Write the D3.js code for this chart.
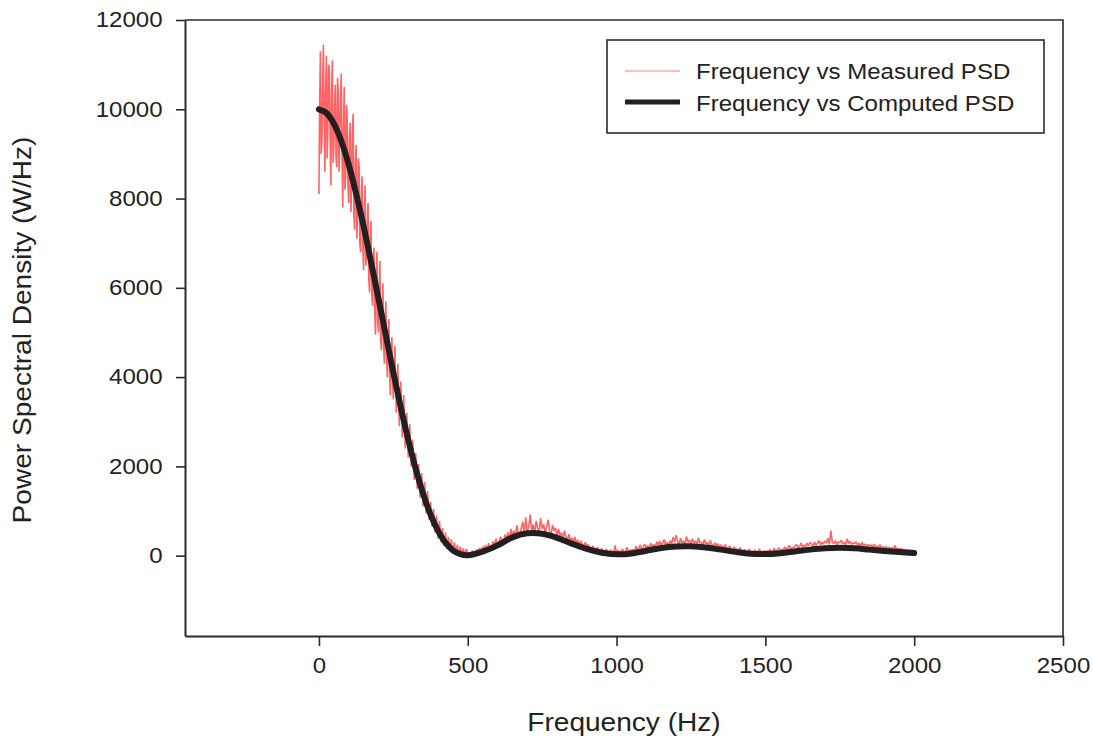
<!DOCTYPE html>
<html>
<head>
<meta charset="utf-8">
<script src="https://cdn.jsdelivr.net/npm/d3@7"></script>
<style>
  html, body { margin: 0; padding: 0; background: #fff; }
  svg { display: block; }
  text { font-family: "Liberation Sans", Arial, Helvetica, sans-serif; fill: #222; }
</style>
</head>
<body>
<svg id="chart" width="1093" height="738"></svg>
<script>
// ---- data ----
const xTicks = [0, 500, 1000, 1500, 2000, 2500];
const yTicks = [0, 2000, 4000, 6000, 8000, 10000, 12000];

// Computed PSD (smooth black curve)
const computedFreq = [0, 25, 50, 75, 100, 125, 150, 175, 200, 225, 250, 275, 300, 325, 350, 375, 400, 425, 450, 475, 500,
  550, 600, 650, 700, 750, 800, 850, 900, 950, 1000, 1050, 1100, 1150, 1200, 1250, 1300, 1350, 1400, 1450, 1500,
  1550, 1600, 1650, 1700, 1750, 1800, 1850, 1900, 1950, 2000];
const computedPSD = [10000, 9920, 9680, 9290, 8760, 8110, 7380, 6580, 5760, 4930, 4100, 3320, 2600, 1950, 1390, 920, 560, 290, 120, 35, 10,
  90, 230, 410, 500, 490, 400, 270, 150, 65, 30, 50, 110, 170, 205, 210, 185, 135, 85, 45, 35,
  55, 95, 135, 165, 175, 165, 135, 105, 80, 60];

// Measured PSD (noisy red trace)
// 0..250 Hz every 2.5 Hz
const measuredLowFreq = d3.range(0, 250.1, 2.5);
const measuredLowPSD = [
  8100, 10200, 11300, 9000, 9300, 10600, 11450, 9800, 8600, 10400,
  11200, 8900, 9600, 11000, 10900, 9400, 8300, 10300, 11100, 8800,
  9100, 10100, 10550, 8900, 8700, 10700, 10400, 8600, 9400, 10200,
  10800, 9000, 7800, 9600, 10500, 8200, 8500, 10100, 9800, 8300,
  7900, 9300, 9700, 7700, 8300, 9500, 9900, 7600, 7300, 8800,
  9200, 7100, 7700, 8900, 8700, 7000, 6800, 8100, 8500, 6900,
  6400, 7800, 8300, 6500, 6700, 7500, 7900, 6200, 5900, 7200,
  7500, 5900, 5600, 6600, 6900, 5500, 4950, 6300, 6800, 5200,
  5000, 6000, 6600, 4800, 4600, 5500, 6100, 4700, 4300, 5300,
  5700, 4400, 4000, 4900, 5300, 4100, 3600, 4500, 4900, 3900,
  3500];
// 255..500 Hz every 5 Hz
const measuredMidFreq = d3.range(255, 501, 5);
const measuredMidPSD = [
  4700, 3200, 4300, 2900, 3900, 2650, 3600, 2400, 3200, 2200,
  2950, 2000, 2600, 1700, 2300, 1500, 2050, 1300, 1850, 1100,
  1650, 950, 1450, 800, 1200, 650, 1050, 520, 900, 380,
  780, 300, 620, 220, 520, 150, 420, 100, 360, 40,
  300, 20, 240, 0, 200, 10, 160, 5, 150, 60];
// 505..2000 Hz every 5 Hz
const measuredTailFreq = d3.range(505, 2001, 5);
const measuredTailPSD = [
  60, 30, 110, 70, 40, 140, 90, 170, 60, 200,
  150, 240, 110, 280, 190, 130, 320, 220, 380, 260,
  300, 420, 350, 260, 470, 380, 520, 330, 600, 450,
  560, 420, 680, 500, 450, 620, 760, 480, 860, 540,
  650, 920, 560, 700, 480, 780, 620, 540, 840, 600,
  700, 520, 650, 800, 560, 470, 690, 560, 620, 450,
  600, 440, 520, 380, 560, 420, 350, 480, 330, 400,
  300, 420, 280, 350, 230, 330, 260, 200, 300, 190,
  250, 170, 120, 220, 150, 100, 190, 130, 90, 160,
  110, 60, 150, 80, 50, 130, 70, 45, 230, 60,
  120, 60, 90, 150, 70, 100, 190, 80, 130, 110,
  140, 90, 210, 120, 170, 240, 110, 200, 260, 150,
  230, 170, 280, 200, 250, 190, 310, 240, 330, 220,
  290, 360, 240, 300, 220, 340, 260, 420, 300, 460,
  320, 260, 390, 280, 330, 250, 430, 300, 350, 270,
  380, 290, 330, 250, 400, 280, 310, 240, 360, 260,
  300, 230, 340, 250, 210, 290, 220, 270, 190, 240,
  210, 160, 250, 170, 140, 220, 150, 120, 200, 130,
  150, 110, 180, 100, 80, 140, 90, 70, 150, 80,
  100, 70, 130, 60, 90, 150, 70, 60, 110, 70,
  110, 80, 140, 70, 100, 160, 90, 120, 180, 110,
  150, 110, 200, 130, 170, 230, 140, 190, 160, 220,
  250, 170, 210, 290, 180, 240, 200, 280, 220, 300,
  260, 200, 310, 230, 280, 340, 240, 300, 260, 330,
  280, 390, 250, 560, 300, 270, 340, 250, 310, 290,
  350, 260, 300, 240, 380, 270, 320, 250, 290, 270,
  310, 230, 280, 210, 300, 220, 260, 200, 250, 210,
  240, 190, 260, 180, 220, 170, 250, 160, 200, 170,
  210, 150, 190, 140, 180, 130, 230, 140, 170, 120,
  160, 110, 150, 100, 140, 100, 130, 90, 120, 80];

const legendLabels = ["Frequency vs Measured PSD", "Frequency vs Computed PSD"];

// ---- layout ----
const svg = d3.select("#chart");
const plotLeft = 185, plotRight = 1063, plotTop = 20, plotBottom = 636;
const x = d3.scaleLinear().domain([-450, 2500]).range([plotLeft, plotRight]);
const y = d3.scaleLinear().domain([-1800, 12000]).range([plotBottom, plotTop]);

const measured = measuredLowFreq.map((f, i) => [f, measuredLowPSD[i]])
  .concat(measuredMidFreq.map((f, i) => [f, measuredMidPSD[i]]))
  .concat(measuredTailFreq.map((f, i) => [f, measuredTailPSD[i]]));
const computed = computedFreq.map((f, i) => [f, computedPSD[i]]);

const redColor = "#ff6464";
const blackColor = "#231f20";
const axisColor = "#2b2b2b";

// lines
svg.append("path")
  .datum(measured)
  .attr("fill", "none")
  .attr("stroke", redColor)
  .attr("stroke-width", 1.6)
  .attr("stroke-linejoin", "bevel")
  .attr("d", d3.line().x(d => x(d[0])).y(d => y(d[1])));

svg.append("path")
  .datum(computed)
  .attr("fill", "none")
  .attr("stroke", blackColor)
  .attr("stroke-width", 6)
  .attr("stroke-linecap", "round")
  .attr("stroke-linejoin", "round")
  .attr("d", d3.line().curve(d3.curveCatmullRom.alpha(0.5)).x(d => x(d[0])).y(d => y(d[1])));

// frame (top and right)
svg.append("path")
  .attr("d", `M${plotLeft},${plotTop}H${plotRight}V${plotBottom}`)
  .attr("fill", "none")
  .attr("stroke", axisColor)
  .attr("stroke-width", 1.6);

// axes
const xAxis = svg.append("g")
  .attr("transform", `translate(0,${plotBottom})`)
  .call(d3.axisBottom(x).tickValues(xTicks).tickSize(10).tickSizeOuter(0).tickPadding(12).tickFormat(d3.format("d")));
const yAxis = svg.append("g")
  .attr("transform", `translate(${plotLeft},0)`)
  .call(d3.axisLeft(y).tickValues(yTicks).tickSize(9).tickSizeOuter(0).tickPadding(11).tickFormat(d3.format("d")));

[xAxis, yAxis].forEach(g => {
  g.select(".domain").attr("stroke", axisColor).attr("stroke-width", 2);
  g.selectAll(".tick line").attr("stroke", axisColor).attr("stroke-width", 1.6);
  g.selectAll(".tick text")
    .style("font-size", "21.5px")
    .style("font-family", "'Liberation Sans', Arial, sans-serif")
    .attr("fill", "#222")
    .attr("transform", "scale(1.12,1)");
});

// axis titles
svg.append("text")
  .attr("transform", `translate(${(plotLeft + plotRight) / 2},731) scale(1.08,1)`)
  .attr("text-anchor", "middle")
  .style("font-size", "26px")
  .text("Frequency (Hz)");

svg.append("text")
  .attr("transform", `translate(31,330) rotate(-90) scale(1.08,1)`)
  .attr("text-anchor", "middle")
  .style("font-size", "26px")
  .text("Power Spectral Density (W/Hz)");

// legend
const lg = svg.append("g");
lg.append("rect")
  .attr("x", 607).attr("y", 40).attr("width", 437).attr("height", 93)
  .attr("fill", "#fff").attr("stroke", axisColor).attr("stroke-width", 1.6);
const legendStyles = [
  { color: "#ff8080", width: 1.2, ly: 71, ty: 79 },
  { color: blackColor, width: 5, ly: 102, ty: 111 }
];
legendLabels.forEach((lab, i) => {
  const s = legendStyles[i];
  lg.append("line")
    .attr("x1", 625).attr("x2", 680).attr("y1", s.ly).attr("y2", s.ly)
    .attr("stroke", s.color).attr("stroke-width", s.width);
  lg.append("text")
    .attr("transform", `translate(696,${s.ty}) scale(1.12,1)`)
    .style("font-size", "21.5px")
    .text(lab);
});
</script>
</body>
</html>
